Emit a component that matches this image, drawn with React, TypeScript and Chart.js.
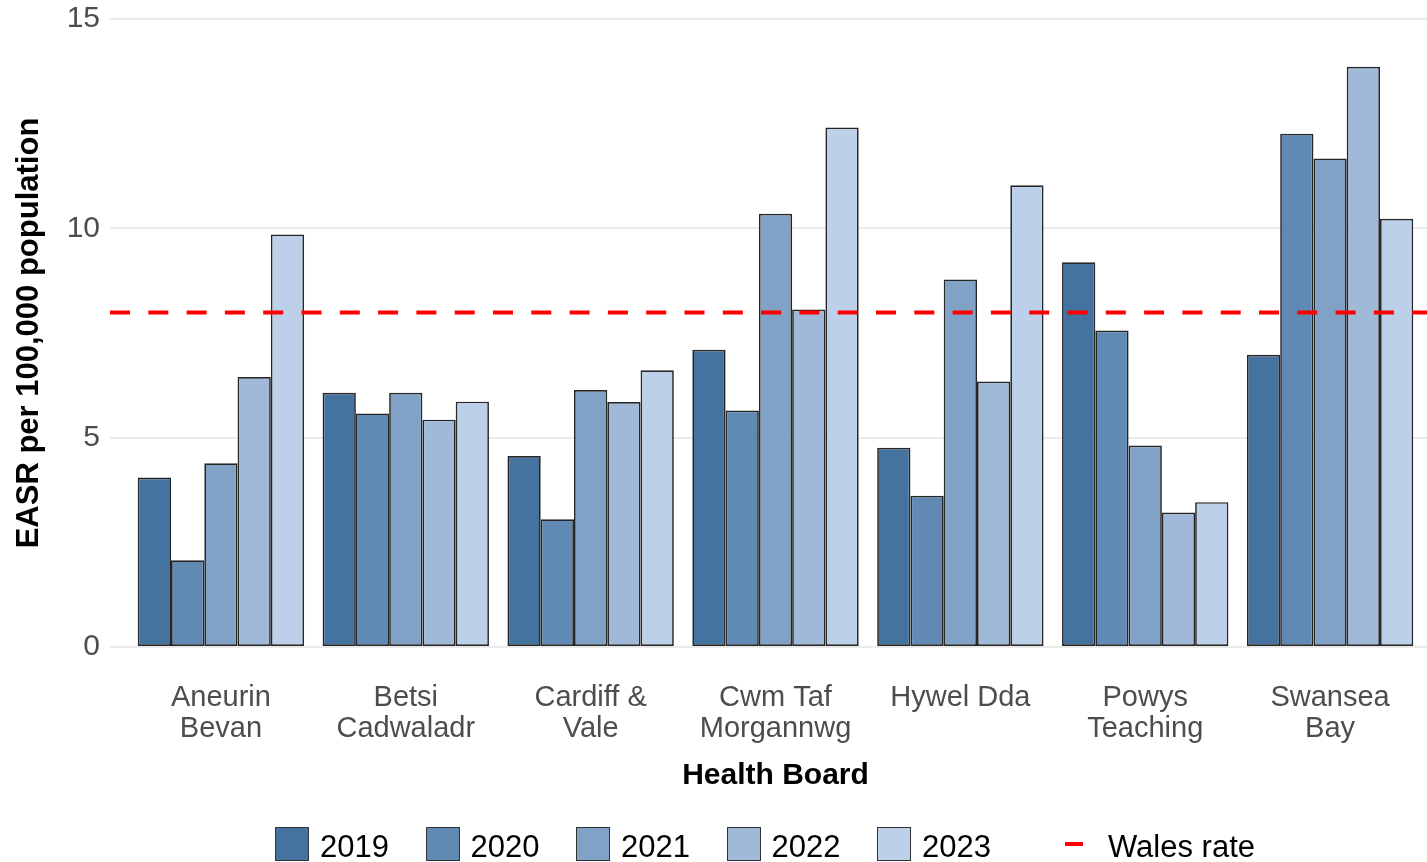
import React, { useEffect, useRef } from "react";
import { Chart, registerables } from "chart.js";

Chart.register(...registerables);

// ---------- data ----------
const healthBoards: string[][] = [
  ["Aneurin", "Bevan"],
  ["Betsi", "Cadwaladr"],
  ["Cardiff &", "Vale"],
  ["Cwm Taf", "Morgannwg"],
  ["Hywel Dda"],
  ["Powys", "Teaching"],
  ["Swansea", "Bay"],
];
const years = ["2019", "2020", "2021", "2022", "2023"];
const easr2019 = [4.05, 6.07, 4.56, 7.1, 4.76, 9.19, 6.98];
const easr2020 = [2.07, 5.58, 3.05, 5.65, 3.61, 7.56, 12.26];
const easr2021 = [4.39, 6.07, 6.14, 10.35, 8.78, 4.81, 11.67];
const easr2022 = [6.45, 5.43, 5.85, 8.06, 6.34, 3.21, 13.86];
const easr2023 = [9.85, 5.86, 6.61, 12.41, 11.03, 3.46, 10.23];
const walesRate = 7.99;
const yTicks = [0, 5, 10, 15];
const yearColors = ["#44739F", "#608AB4", "#80A2C6", "#A0B9D8", "#BDD0EA"];

const series = [easr2019, easr2020, easr2021, easr2022, easr2023];

const FONT = "'Liberation Sans', Arial, sans-serif";

export default function App() {
  const canvasRef = useRef<HTMLCanvasElement | null>(null);

  useEffect(() => {
    const canvas = canvasRef.current;
    if (!canvas) return;
    const nCat = healthBoards.length;
    const xMin = 0.4;
    const xMax = nCat + 0.6;

    const barSets = years.map((yr, i) => ({
      type: "bar" as const,
      label: yr,
      data: series[i].map((v, j) => ({ x: j + 1, y: v })),
      backgroundColor: yearColors[i],
      borderColor: "#262626",
      borderWidth: 1.7,
      borderSkipped: false as const,
      categoryPercentage: 0.9,
      barPercentage: 1.0,
      order: 2,
    }));

    const lineSet = {
      type: "line" as const,
      label: "Wales rate",
      data: [
        { x: xMin, y: walesRate },
        { x: xMax, y: walesRate },
      ],
      borderColor: "#FF0000",
      borderWidth: 4,
      borderDash: [20, 18.3],
      pointRadius: 0,
      fill: false,
      order: 0,
    };

    const chart = new Chart(canvas, {
      type: "bar",
      data: { datasets: [...barSets, lineSet] as any },
      options: {
        animation: false,
        responsive: false,
        maintainAspectRatio: false,
        layout: { padding: { top: 19, right: 4, bottom: 60, left: 0 } },
        plugins: {
          legend: { display: false },
          tooltip: { enabled: false },
        },
        scales: {
          x: {
            type: "linear",
            min: xMin,
            max: xMax,
            offset: false,
            afterBuildTicks: (s: any) => {
              s.ticks = healthBoards.map((_, i) => ({ value: i + 1 }));
            },
            afterFit: (s: any) => {
              s.height = 155;
              s.paddingLeft = 0;
              s.paddingRight = 0;
            },
            ticks: {
              autoSkip: false,
              maxRotation: 0,
              minRotation: 0,
              padding: 35,
              color: "#4D4D4D",
              font: { family: FONT, size: 29, lineHeight: 1.086 },
              callback: (v: any) => healthBoards[Math.round(Number(v)) - 1] ?? "",
            },
            grid: { display: false, drawTicks: false, offset: false },
            border: { display: false },
            title: {
              display: true,
              text: "Health Board",
              color: "#000000",
              font: { family: FONT, size: 30, weight: "bold" },
              padding: { top: 0, bottom: 8 },
            },
          },
          y: {
            type: "linear",
            min: 0,
            max: 15,
            afterBuildTicks: (s: any) => {
              s.ticks = yTicks.map((v) => ({ value: v }));
            },
            afterFit: (s: any) => {
              s.width = 110;
              s.paddingTop = 0;
              s.paddingBottom = 0;
            },
            ticks: {
              padding: 10,
              color: "#4D4D4D",
              font: { family: FONT, size: 30 },
            },
            grid: { color: "#EBEBEB", lineWidth: 2, drawTicks: false },
            border: { display: false },
            title: {
              display: true,
              text: "EASR per 100,000 population",
              color: "#000000",
              font: { family: FONT, size: 31, weight: "bold" },
              padding: { top: 11, bottom: 0 },
            },
          },
        },
      } as any,
    });
    return () => chart.destroy();
  }, []);

  const legendStart = 275;
  const legendStep = 150.5;

  return (
    <div
      style={{
        position: "fixed",
        left: 0,
        top: 0,
        width: "100vw",
        height: "100vh",
        overflow: "hidden",
        background: "#ffffff",
      }}
    >
      <canvas
        ref={canvasRef}
        width={1445}
        height={862}
        style={{ display: "block", position: "absolute", left: 0, top: 0 }}
      />
      {years.map((yr, i) => (
        <div
          key={yr}
          style={{
            position: "absolute",
            left: legendStart + i * legendStep,
            top: 827,
            display: "flex",
            alignItems: "flex-start",
          }}
        >
          <div
            style={{
              width: 34,
              height: 34,
              boxSizing: "border-box",
              border: "1.5px solid #333333",
              background: yearColors[i],
            }}
          />
          <span
            style={{
              marginLeft: 11,
              marginTop: 3,
              fontFamily: FONT,
              fontSize: 31,
              lineHeight: "34px",
              color: "#000000",
              whiteSpace: "nowrap",
            }}
          >
            {yr}
          </span>
        </div>
      ))}
      <div
        style={{
          position: "absolute",
          left: 1057,
          top: 827,
          display: "flex",
          alignItems: "flex-start",
        }}
      >
        <div style={{ width: 34, height: 34, position: "relative" }}>
          <div
            style={{
              position: "absolute",
              left: 8,
              top: 15,
              width: 18,
              height: 4,
              background: "#FF0000",
            }}
          />
        </div>
        <span
          style={{
            marginLeft: 17,
            marginTop: 3,
            fontFamily: FONT,
            fontSize: 31,
            lineHeight: "34px",
            color: "#000000",
            whiteSpace: "nowrap",
          }}
        >
          Wales rate
        </span>
      </div>
    </div>
  );
}
